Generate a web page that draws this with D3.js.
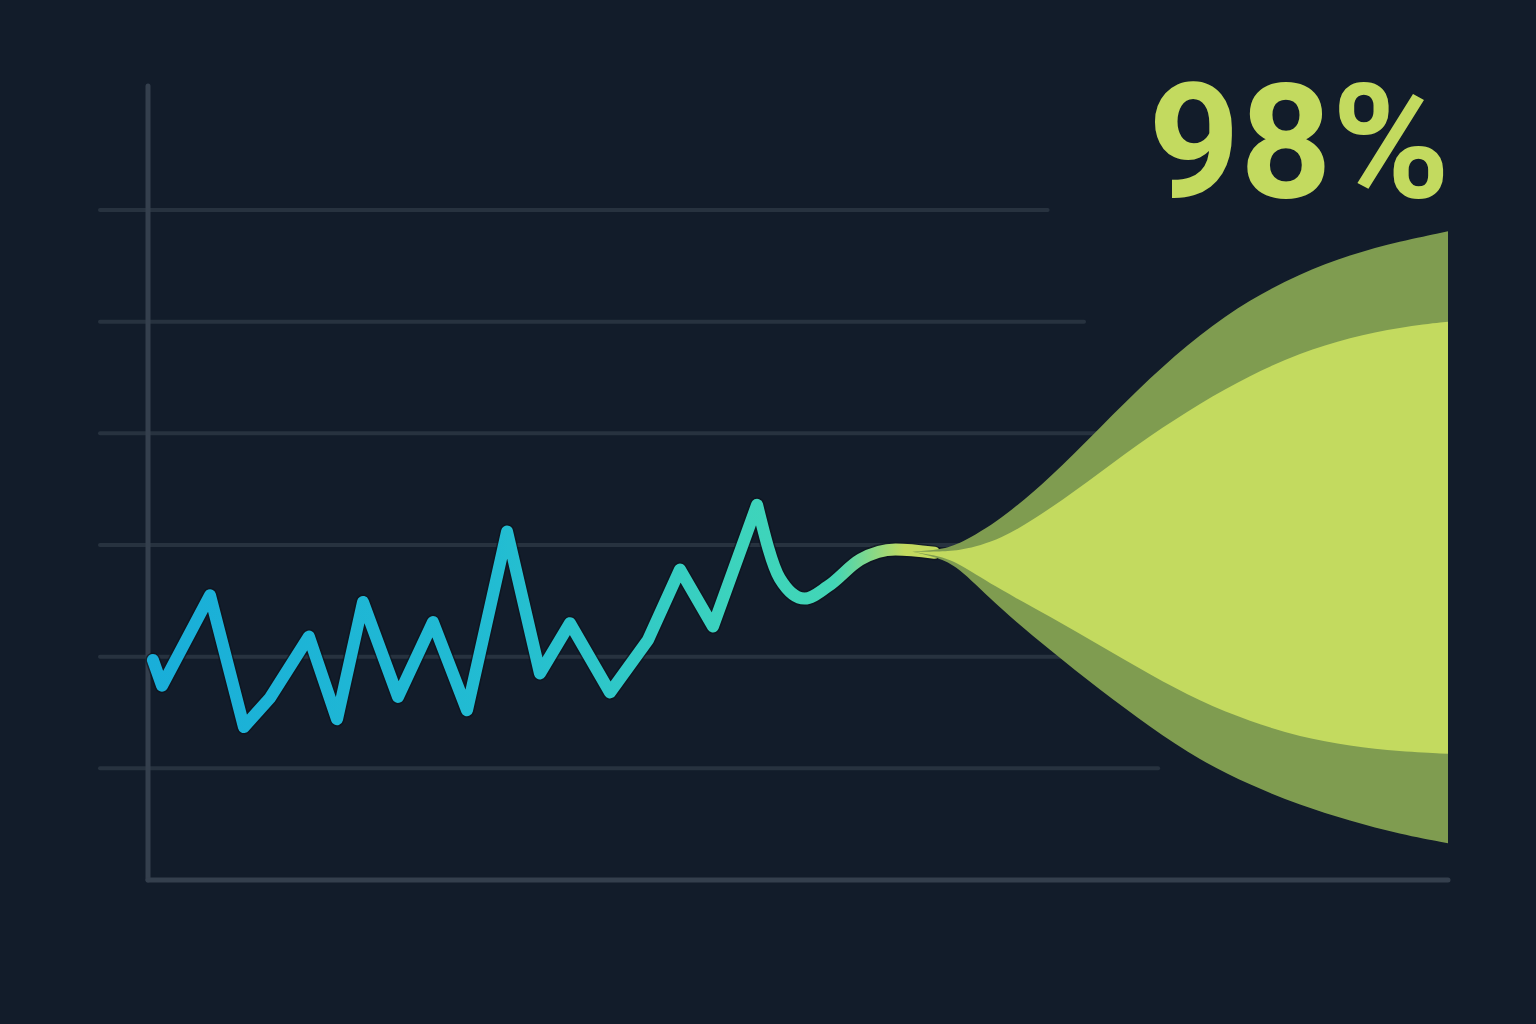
<!DOCTYPE html>
<html>
<head>
<meta charset="utf-8">
<script src="https://cdn.jsdelivr.net/npm/d3@7"></script>
<style>
  html, body { margin: 0; padding: 0; background: #121c2a; }
  svg { display: block; }
</style>
</head>
<body>
<svg id="chart" width="1536" height="1024"></svg>
<script>
// ---- data ----
const gridValues = [1, 2, 3, 4, 5, 6];
const gridEnds   = [77.7, 90, 90, 76.8, 72, 69.2];   // x-domain end of each gridline

const seriesX = [0.38, 1.08, 4.77, 7.38, 9.38, 12.38, 14.54, 16.54, 19.23, 21.92, 24.54, 27.62, 30.15, 32.46, 35.54, 38.46, 40.92, 43.46, 46.85];
const seriesY = [1.97, 1.74, 2.55, 1.37, 1.63, 2.18, 1.44, 2.49, 1.64, 2.31, 1.52, 3.12, 1.85, 2.30, 1.68, 2.15, 2.78, 2.27, 3.36];

const tailX = [46.85, 48.6, 50.5, 52.3, 54.8, 57.5, 60.5];
const tailY = [3.36, 2.70, 2.52, 2.63, 2.87, 2.96, 2.93];

const fanX         = [58.8, 61.0, 62.46, 65.54, 69.38, 73.23, 77.08, 80.92, 84.77, 88.62, 92.46, 96.31, 100];
const fanOuterTop  = [2.94, 2.96, 3.01, 3.22, 3.60, 4.05, 4.50, 4.89, 5.20, 5.43, 5.60, 5.72, 5.81];
const fanInnerTop  = [2.94, 2.94, 2.95, 3.04, 3.32, 3.65, 3.98, 4.27, 4.52, 4.72, 4.86, 4.95, 5.00];
const fanInnerBot  = [2.94, 2.90, 2.83, 2.60, 2.36, 2.10, 1.84, 1.60, 1.42, 1.28, 1.20, 1.15, 1.13];
const fanOuterBot  = [2.94, 2.88, 2.79, 2.43, 2.06, 1.70, 1.37, 1.07, 0.85, 0.67, 0.53, 0.41, 0.33];

const headline = "98%";

// ---- scales ----
const svg = d3.select("#chart");
const x = d3.scaleLinear().domain([0, 100]).range([148, 1448]);
const y = d3.scaleLinear().domain([0, 6]).range([880, 210]);

// gridlines
svg.append("g").selectAll("line")
  .data(gridValues)
  .join("line")
  .attr("x1", 100)
  .attr("x2", (d, i) => x(gridEnds[i]))
  .attr("y1", d => y(d))
  .attr("y2", d => y(d))
  .attr("stroke", "#27323f")
  .attr("stroke-width", 4)
  .attr("stroke-linecap", "round");

// axes
svg.append("line")
  .attr("x1", x(0)).attr("x2", x(0))
  .attr("y1", 86).attr("y2", y(0))
  .attr("stroke", "#343f4d").attr("stroke-width", 5).attr("stroke-linecap", "round");
svg.append("line")
  .attr("x1", x(0)).attr("x2", x(100))
  .attr("y1", y(0)).attr("y2", y(0))
  .attr("stroke", "#343f4d").attr("stroke-width", 5).attr("stroke-linecap", "round");

// line gradient
const defs = svg.append("defs");
const grad = defs.append("linearGradient").attr("id", "lineGrad")
  .attr("gradientUnits", "userSpaceOnUse")
  .attr("x1", x(0)).attr("x2", x(60)).attr("y1", 0).attr("y2", 0);
grad.append("stop").attr("offset", "0%").attr("stop-color", "#19aed9");
grad.append("stop").attr("offset", "45%").attr("stop-color", "#22bcd2");
grad.append("stop").attr("offset", "75%").attr("stop-color", "#3cd3bd");
grad.append("stop").attr("offset", "88%").attr("stop-color", "#42d6b6");
grad.append("stop").attr("offset", "97%").attr("stop-color", "#c3da5f");
grad.append("stop").attr("offset", "100%").attr("stop-color", "#c3da5f");

const jag = seriesX.map((v, i) => [v, seriesY[i]]);
const tail = tailX.map((v, i) => [v, tailY[i]]);
const lineLin = d3.line().x(d => x(d[0])).y(d => y(d[1])).curve(d3.curveLinear);
const lineSmooth = d3.line().x(d => x(d[0])).y(d => y(d[1])).curve(d3.curveMonotoneX);
const pathD = lineLin(jag) + lineSmooth(tail).replace(/^M/, "L");

svg.append("path").attr("d", pathD)
  .attr("fill", "none").attr("stroke", "#0b121c").attr("stroke-width", 15)
  .attr("stroke-linejoin", "round").attr("stroke-linecap", "round").attr("opacity", 0.6);
svg.append("path").attr("d", pathD)
  .attr("fill", "none").attr("stroke", "url(#lineGrad)").attr("stroke-width", 12)
  .attr("stroke-linejoin", "round").attr("stroke-linecap", "round");

// fan
const fanData = fanX.map((v, i) => ({x: v, ot: fanOuterTop[i], it: fanInnerTop[i], ib: fanInnerBot[i], ob: fanOuterBot[i]}));
const outerArea = d3.area().x(d => x(d.x)).y0(d => y(d.ob)).y1(d => y(d.ot)).curve(d3.curveBasis);
const innerArea = d3.area().x(d => x(d.x)).y0(d => y(d.ib)).y1(d => y(d.it)).curve(d3.curveBasis);

svg.append("path").datum(fanData).attr("d", outerArea)
  .attr("fill", "#7f9c50");
svg.append("path").datum(fanData).attr("d", innerArea)
  .attr("fill", "#c3da5f");

// headline
svg.append("text")
  .attr("x", 1450).attr("y", 197)
  .attr("text-anchor", "end")
  .attr("font-family", "Roboto, 'Noto Sans', sans-serif")
  .attr("font-weight", 700)
  .attr("font-size", 160)
  .attr("fill", "#c3da5f")
  .text(headline);
</script>
</body>
</html>
